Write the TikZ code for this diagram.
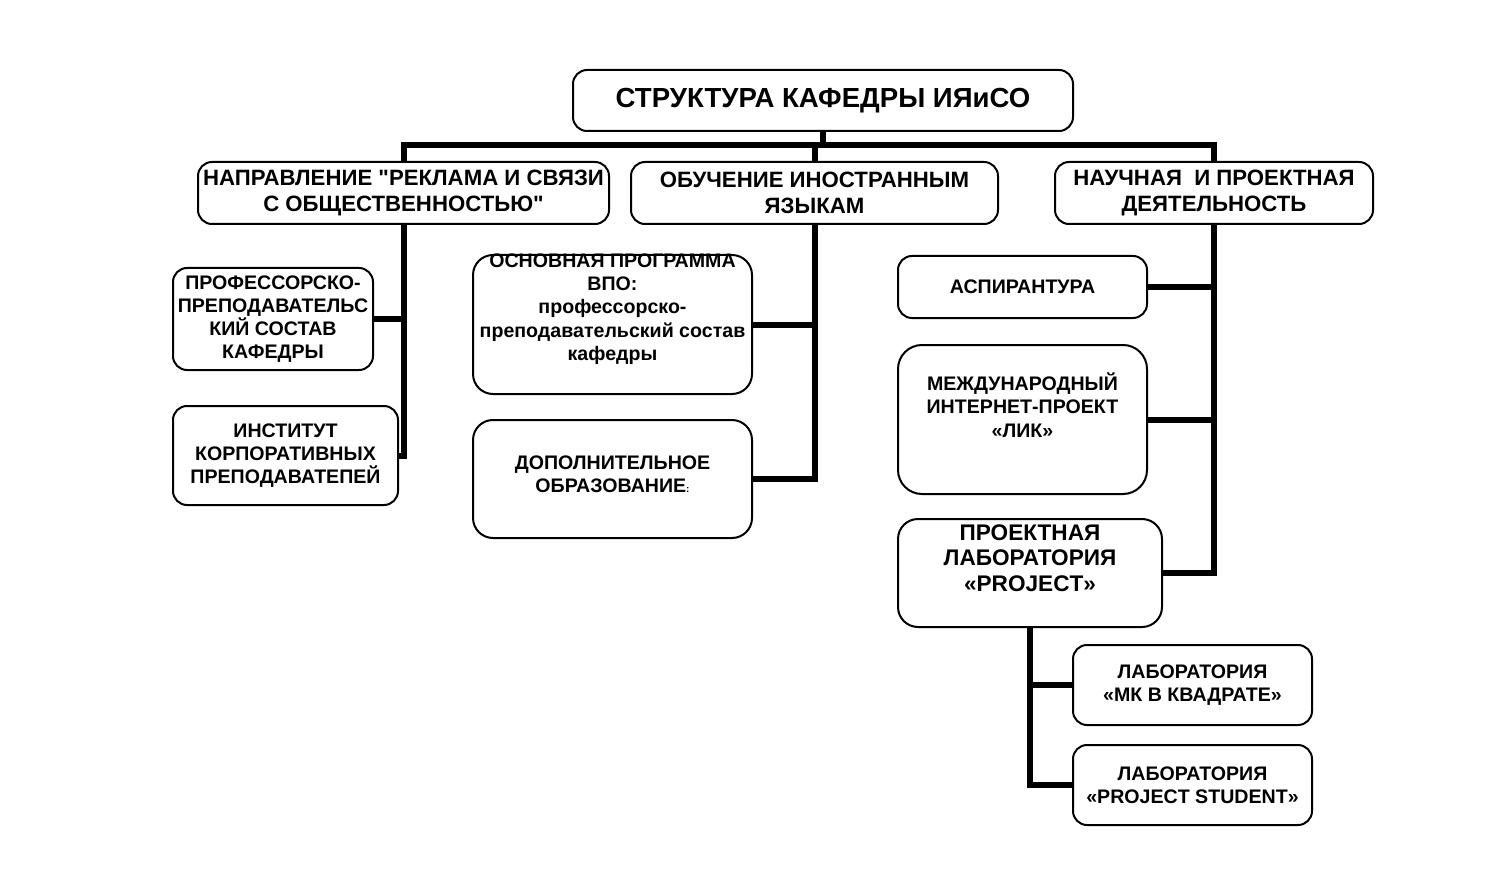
\documentclass[tikz,border=0pt]{standalone}
\usepackage{fontspec}
\setmainfont{Liberation Sans}[Ligatures=TeXOff]

\tikzset{
  unit/.style={draw, line width=1pt, rounded corners=7pt, align=center, inner sep=0pt,
    font=\bfseries\fontsize{9.8}{11.4}\selectfont},
  head/.style={unit, minimum height=31pt, font=\bfseries\fontsize{11.1}{12.8}\selectfont},
  txt/.style={align=center, inner sep=0pt, font=\bfseries\fontsize{9.8}{11.7}\selectfont},
  bar/.style={line width=3pt}
}

\begin{document}
\begin{tikzpicture}[x=0.5pt, y=-0.5pt]
    \useasboundingbox (0,0) rectangle (1499,893);

    % top
    \node[unit, minimum width=250pt, minimum height=30.5pt, font=\bfseries\fontsize{13.8}{15}\selectfont] at (823, 100.5) (title) {СТРУКТУРА КАФЕДРЫ ИЯиСО};

    % directions
    \node[head, minimum width=205.5pt] at (403.5, 193) (pr) {НАПРАВЛЕНИЕ "РЕКЛАМА И СВЯЗИ\\С ОБЩЕСТВЕННОСТЬЮ"};
    \node[head, minimum width=183.5pt] at (814.5, 193) (lang) {ОБУЧЕНИЕ ИНОСТРАННЫМ\\ЯЗЫКАМ};
    \node[head, minimum width=159pt] at (1214, 193) (sci) {НАУЧНАЯ\ \ И ПРОЕКТНАЯ\\ДЕЯТЕЛЬНОСТЬ};

    % left column
    \node[unit, minimum width=100pt, minimum height=51pt] at (273, 319) (staff) {ПРОФЕССОРСКО-\\ПРЕПОДАВАТЕЛЬС\\КИЙ СОСТАВ\\КАФЕДРЫ};
    \node[unit, minimum width=112.5pt, minimum height=49.5pt] at (285.5, 455.5) (inst) {ИНСТИТУТ\\КОРПОРАТИВНЫХ\\ПРЕПОДАВАТЕПЕЙ};

    % middle column
    \node[unit, minimum width=139.5pt, minimum height=69.5pt, rounded corners=10pt] at (612.5, 324.5) (vpo) {};
    \node[txt] at (612.5, 309) (vpo-txt) {ОСНОВНАЯ ПРОГРАММА\\ВПО:\\профессорско-\\преподавательский состав\\кафедры};
    \node[unit, minimum width=139.5pt, minimum height=59pt, rounded corners=10pt] at (612.5, 479) (dop) {};
    \node[txt] at (612.5, 474) (dop-txt) {ДОПОЛНИТЕЛЬНОЕ\\ОБРАЗОВАНИЕ{\tiny:}};

    % right column
    \node[unit, minimum width=124.5pt, minimum height=31pt] at (1022.5, 287) (asp) {АСПИРАНТУРА};
    \node[unit, minimum width=124.5pt, minimum height=74.5pt, rounded corners=12pt] at (1022.5, 419.5) (lik) {};
    \node[txt] at (1022.5, 405) (lik-txt) {МЕЖДУНАРОДНЫЙ\\ИНТЕРНЕТ-ПРОЕКТ\\«ЛИК»};
    \node[unit, minimum width=132pt, minimum height=54pt, rounded corners=10pt] at (1030, 573) (plab) {};
    \node[txt, font=\bfseries\fontsize{11.3}{12.8}\selectfont] at (1030, 558) (plab-txt) {ПРОЕКТНАЯ\\ЛАБОРАТОРИЯ\\«PROJECT»};
    \node[unit, minimum width=119.5pt, minimum height=40pt] at (1192.5, 685) (mk) {ЛАБОРАТОРИЯ\\«МК В КВАДРАТЕ»};
    \node[unit, minimum width=119.5pt, minimum height=40pt] at (1192.5, 785) (stud) {ЛАБОРАТОРИЯ\\«PROJECT STUDENT»};

    % connectors
    \draw[bar] (title.south) -- ++(0, 15);
    \draw[bar] (pr.north) -- ++(0, -16) -| (sci.north);
    \draw[bar] (lang.north) -- ++(0, -16);

    \draw[bar] (pr.south) |- (inst.east);
    \draw[bar] (staff.east) -- (staff.east -| pr.south);

    \draw[bar] (lang.south) |- (dop.east);
    \draw[bar] (vpo.east) -- (vpo.east -| lang.south);

    \draw[bar] (sci.south) |- (plab.east);
    \draw[bar] (asp.east) -- (asp.east -| sci.south);
    \draw[bar] (lik.east) -- (lik.east -| sci.south);

    \draw[bar] (plab.south) |- (stud.west);
    \draw[bar] (mk.west -| plab.south) -- (mk.west);
\end{tikzpicture}
\end{document}
